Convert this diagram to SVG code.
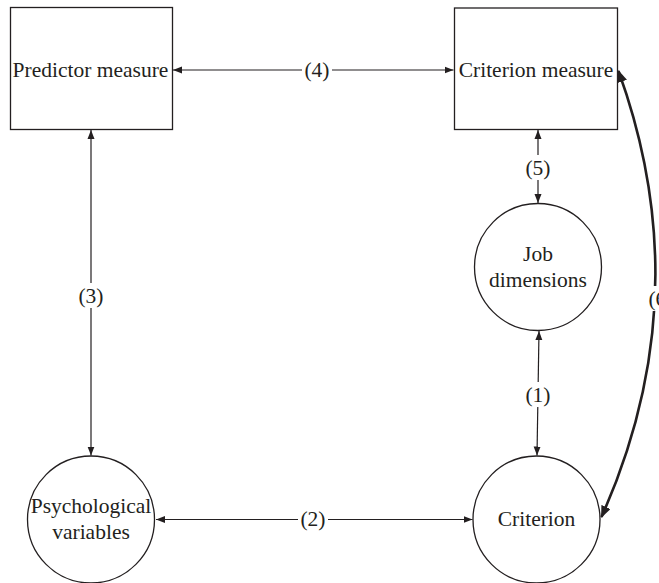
<svg xmlns="http://www.w3.org/2000/svg" width="659" height="583" viewBox="0 0 659 583">
<style>
.node{fill:#fff;stroke:#231f20;stroke-width:1.3}
.t{font-family:"Liberation Serif","Times New Roman",serif;font-size:21.5px;fill:#231f20;text-anchor:middle}
.c{fill:none;stroke:#231f20;stroke-width:1.2;marker-start:url(#ah);marker-end:url(#ah)}
.bold{fill:none;stroke:#231f20;stroke-width:2.6;marker-start:url(#bh);marker-end:url(#bh)}
.bg{fill:#fff}
</style>
<defs>
<marker id="ah" markerUnits="userSpaceOnUse" markerWidth="9" markerHeight="8" refX="9" refY="4" orient="auto-start-reverse"><path d="M0,0.5 L9,4 L0,7.5 z" fill="#231f20"/></marker>
<marker id="bh" markerUnits="userSpaceOnUse" markerWidth="12" markerHeight="10" refX="11" refY="5" orient="auto-start-reverse"><path d="M0,0 L12,5 L0,10 z" fill="#231f20"/></marker>
</defs>
<g id="connectors">
<line class="c" x1="173" y1="70" x2="453.5" y2="70"/>
<line class="c" x1="91" y1="130" x2="91" y2="455.5"/>
<line class="c" x1="156" y1="519.5" x2="472.5" y2="519.5"/>
<line class="c" x1="538" y1="130" x2="538" y2="203"/>
<line class="c" x1="539" y1="331" x2="537" y2="455.5"/>
<path class="bold" d="M618.5,71 Q700,296 601.5,517"/>
<rect class="bg" x="302" y="57" width="30" height="25"/>
<text class="t" x="317" y="77">(4)</text>
<rect class="bg" x="76" y="283" width="30" height="25"/>
<text class="t" x="91" y="303">(3)</text>
<rect class="bg" x="298" y="506" width="30" height="25"/>
<text class="t" x="313" y="526">(2)</text>
<rect class="bg" x="523" y="155" width="30" height="25"/>
<text class="t" x="538" y="175">(5)</text>
<rect class="bg" x="523" y="382" width="30" height="25"/>
<text class="t" x="538" y="402">(1)</text>
<rect class="bg" x="645" y="286" width="20" height="25"/>
<text class="t" x="661" y="306">(6)</text>
</g>
<g id="predictor-measure">
<rect class="node" x="10.5" y="7.5" width="162" height="122"/>
<text class="t" x="90.5" y="77">Predictor measure</text>
</g>
<g id="criterion-measure">
<rect class="node" x="454.5" y="8" width="163" height="121.5"/>
<text class="t" x="536" y="77">Criterion measure</text>
</g>
<g id="job-dimensions">
<circle class="node" cx="538" cy="267" r="63.5"/>
<text class="t" x="538" y="261">Job</text>
<text class="t" x="538" y="287">dimensions</text>
</g>
<g id="psychological-variables">
<circle class="node" cx="91" cy="519.5" r="63.5"/>
<text class="t" x="91" y="513">Psychological</text>
<text class="t" x="91" y="539">variables</text>
</g>
<g id="criterion">
<circle class="node" cx="536.5" cy="519.5" r="63.5"/>
<text class="t" x="536.5" y="526">Criterion</text>
</g>
</svg>
